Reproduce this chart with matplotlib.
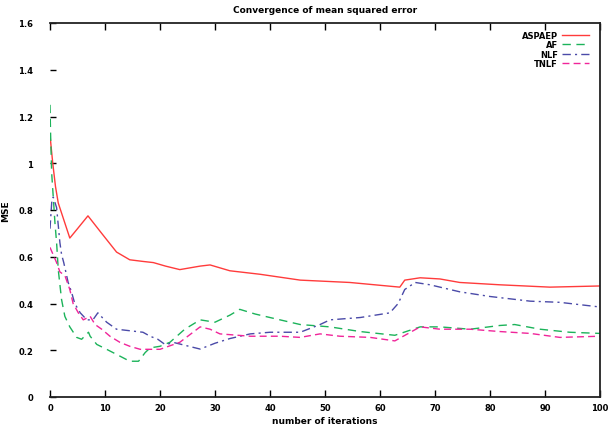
import matplotlib
matplotlib.use("Agg")
import matplotlib.pyplot as plt

title = "Convergence of mean squared error"
xlabel = "number of iterations"
ylabel = "MSE"

labels = ["ASPAEP", "AF", "NLF", "TNLF"]
colors = ["#ff3b3b", "#1cb35a", "#4a4aa8", "#f0259a"]
styles = ["-", (0, (6, 4)), (0, (6, 3, 1.5, 3)), (0, (5, 3))]

red_x = [0, 0.5, 1, 1.5, 2.2, 3.6, 5, 6.9, 9.4, 12.1, 14.5, 16.9, 18.8, 21, 23.6, 27.3,
         29.1, 32.7, 38.2, 45.5, 54.5, 63.6, 64.5, 67.3, 70.9, 74.5, 81.8, 90.9, 100]
red_y = [1.12, 1.0, 0.9, 0.83, 0.78, 0.68, 0.72, 0.775, 0.70, 0.62, 0.587, 0.58, 0.575, 0.56,
         0.545, 0.56, 0.565, 0.54, 0.525, 0.50, 0.49, 0.47, 0.50, 0.51, 0.505, 0.49, 0.48, 0.47, 0.475]

green_x = [0, 0.1, 0.3, 0.55, 0.9, 1.2, 1.5, 2.1, 2.7, 3.6, 4.85, 5.75, 7.0, 7.3, 8.5, 10.3,
           12.7, 14.5, 16.1, 17.3, 18.2, 20, 21.8, 24.5, 27.3, 30, 32.7, 34.5, 37.3, 40, 45.5,
           50.9, 56.4, 62.7, 67.3, 70.9, 76.4, 81.8, 84.5, 89.1, 94.5, 100]
green_y = [1.25, 1.13, 0.96, 0.87, 0.745, 0.66, 0.545, 0.417, 0.345, 0.30, 0.255, 0.247, 0.277,
           0.26, 0.225, 0.204, 0.175, 0.153, 0.153, 0.19, 0.21, 0.217, 0.234, 0.29, 0.33, 0.32,
           0.35, 0.375, 0.355, 0.34, 0.31, 0.30, 0.28, 0.264, 0.30, 0.30, 0.29, 0.306, 0.31,
           0.29, 0.277, 0.272]

blue_x = [0, 0.36, 0.6, 1.2, 1.8, 2.1, 2.5, 3.3, 3.9, 4.5, 5.5, 6.7, 7.8, 8.7, 10.3, 12.1,
          16.9, 18.2, 19.6, 20.9, 22.7, 27.3, 30, 32.7, 36.4, 40, 45.5, 49.1, 50.9, 56.4, 61.8,
          63.3, 64.5, 66.4, 69.1, 74.5, 80, 87.3, 92.7, 100]
blue_y = [0.72, 0.85, 0.855, 0.81, 0.66, 0.61, 0.575, 0.49, 0.45, 0.40, 0.36, 0.33, 0.33, 0.36,
          0.32, 0.29, 0.277, 0.26, 0.247, 0.225, 0.232, 0.205, 0.23, 0.25, 0.27, 0.277, 0.277,
          0.31, 0.33, 0.34, 0.36, 0.40, 0.46, 0.49, 0.48, 0.45, 0.43, 0.41, 0.405, 0.385]

mag_x = [0, 1.2, 1.8, 2.7, 3.6, 4.2, 5.15, 6.05, 7.3, 8.2, 9.4, 10.9, 12.7, 14.5, 16.4, 20,
         23.6, 27.3, 29.1, 30.9, 36.4, 41.8, 45.5, 49.1, 52.7, 58.2, 62.7, 67.3, 70.9, 76.4,
         81.8, 87.3, 92.7, 100]
mag_y = [0.64, 0.575, 0.535, 0.52, 0.46, 0.40, 0.36, 0.33, 0.345, 0.31, 0.29, 0.26, 0.234,
         0.217, 0.204, 0.204, 0.234, 0.30, 0.29, 0.27, 0.26, 0.26, 0.255, 0.27, 0.26, 0.255,
         0.24, 0.30, 0.29, 0.29, 0.28, 0.272, 0.255, 0.26]

xticks = [0, 10, 20, 30, 40, 50, 60, 70, 80, 90, 100]
yticks = [0, 0.2, 0.4, 0.6, 0.8, 1, 1.2, 1.4, 1.6]
ytick_labels = ["0", "0.2", "0.4", "0.6", "0.8", "1", "1.2", "1.4", "1.6"]

fig = plt.figure(figsize=(6.08, 4.27), dpi=100)
ax = fig.add_axes([50 / 608, 1 - 398 / 427, 550 / 608, 374 / 427])

series = [(red_x, red_y), (green_x, green_y), (blue_x, blue_y), (mag_x, mag_y)]
for (xs, ys), lab, c, ls in zip(series, labels, colors, styles):
    ax.plot(xs, ys, color=c, linestyle=ls, linewidth=1.0, label=lab)

ax.set_xlim(0, 100)
ax.set_ylim(0, 1.6)
ax.set_xticks(xticks)
ax.set_yticks(yticks)
ax.set_yticklabels(ytick_labels)
ax.tick_params(axis="x", direction="in", top=True, length=5, width=1, labelsize=6, pad=4)
ax.tick_params(axis="y", direction="in", right=False, length=4, width=1, labelsize=6, pad=12)
for lab in ax.get_xticklabels() + ax.get_yticklabels():
    lab.set_fontweight("bold")

for s in ["top", "right", "bottom"]:
    ax.spines[s].set_linewidth(1.3)
    ax.spines[s].set_color("#222222")
ax.spines["left"].set_visible(False)

ax.set_title(title, fontsize=6.5, fontweight="bold", pad=8)
ax.set_xlabel(xlabel, fontsize=6.5, fontweight="bold", labelpad=3)
ax.set_ylabel(ylabel, fontsize=6.5, fontweight="bold", labelpad=6)

leg = ax.legend(loc="upper right", bbox_to_anchor=(0.99, 0.995), frameon=False,
                markerfirst=False, fontsize=6, handlelength=3.2, handletextpad=0.5,
                labelspacing=0.05, borderpad=0.2)
for t in leg.get_texts():
    t.set_fontweight("bold")
    t.set_ha("right")

fig.savefig("out.png", dpi=100)
